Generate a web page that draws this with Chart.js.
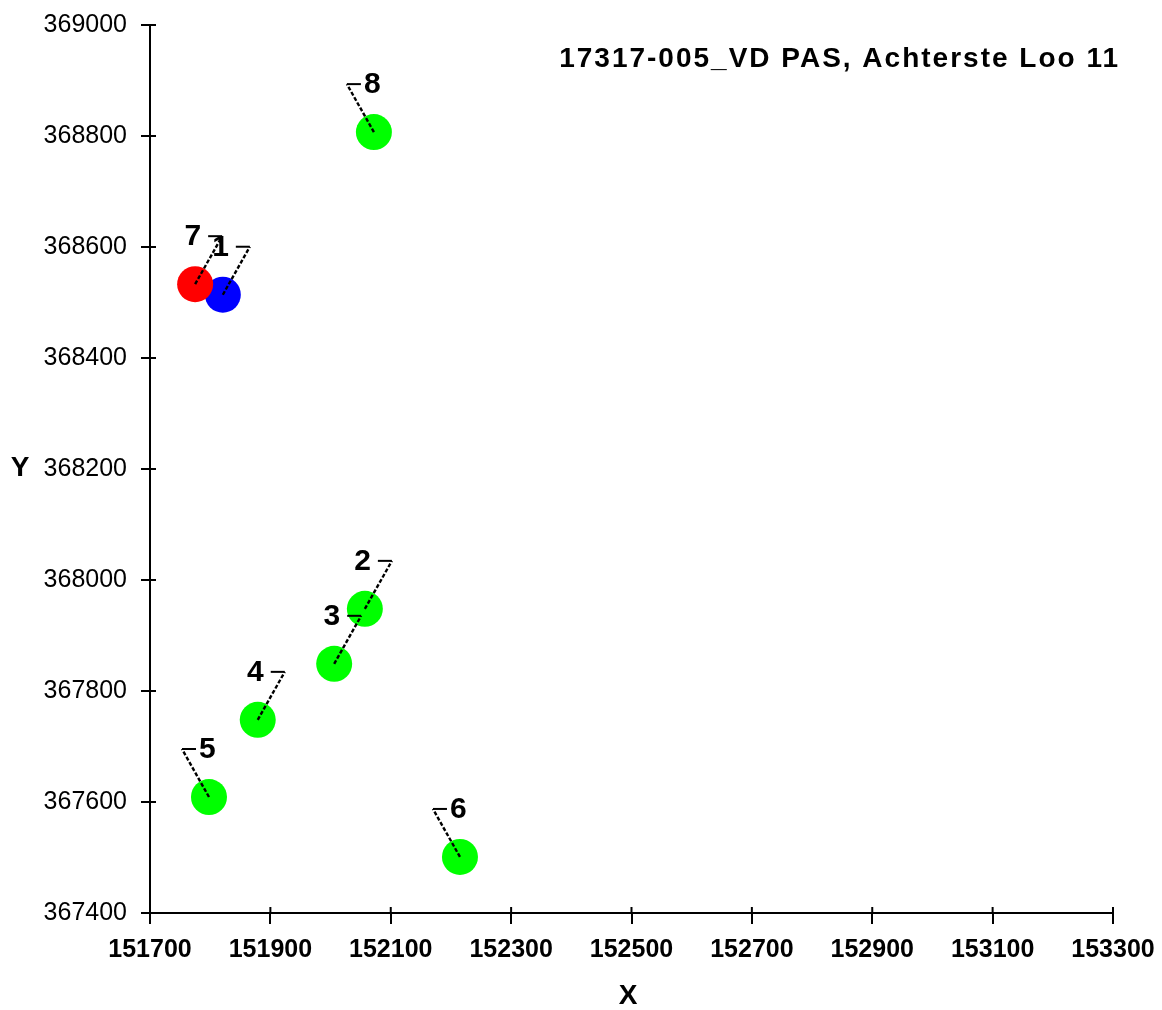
<!DOCTYPE html>
<html>
<head>
<meta charset="utf-8">
<script src="https://cdn.jsdelivr.net/npm/chart.js@4.4.1/dist/chart.umd.min.js"></script>
<style>
  body { margin: 0; background: #fff; }
  canvas { display: block; }
</style>
</head>
<body>
<canvas id="myChart" width="1162" height="1010"></canvas>
<script>
// point numbers and coordinates (RD x / y)
const ids = ['1', '2', '3', '4', '5', '6', '7', '8']
const xs = [151821, 152057, 152006, 151879, 151798, 152215, 151775, 152072]
const ys = [368514, 367948, 367849, 367748, 367609, 367501, 368533, 368807]
const groups = ['blue', 'green', 'green', 'green', 'green', 'green', 'red', 'green']

const xTicks = [151700, 151900, 152100, 152300, 152500, 152700, 152900, 153100, 153300]
const yTicks = [367400, 367600, 367800, 368000, 368200, 368400, 368600, 368800, 369000]

const chartTitle = '17317-005_VD PAS, Achterste Loo 11'

// which side the label leader goes to (1 = right, -1 = left)
const labelSide = [1, 1, 1, 1, -1, -1, 1, -1]

const colors = { green: '#00ff00', red: '#ff0000', blue: '#0000ff' }

const makeDataset = (group) => {
    const pts = []
    ids.forEach((id, i) => {
        if (groups[i] === group) pts.push({ x: xs[i], y: ys[i], id: id })
    })
    return {
        label: group,
        data: pts,
        backgroundColor: colors[group],
        borderColor: colors[group],
        pointRadius: 18,
        pointHoverRadius: 18,
        borderWidth: 0
    }
}

const sans = "'Liberation Sans', Arial, sans-serif"

// no extra padding from tick labels, layout.padding alone sets the plot box
const noPad = (scale) => {
    scale.paddingTop = 0
    scale.paddingBottom = 0
    scale.paddingLeft = 0
    scale.paddingRight = 0
}

const extras = {
    id: 'extras',
    afterDatasetsDraw(chart) {
        const ctx = chart.ctx
        const xs_ = chart.scales.x
        const ys_ = chart.scales.y
        ctx.save()

        // inner parts of the tick marks
        ctx.strokeStyle = '#000'
        ctx.lineWidth = 2
        xTicks.forEach(v => {
            const px = xs_.getPixelForValue(v)
            ctx.beginPath()
            ctx.moveTo(px, ys_.bottom)
            ctx.lineTo(px, ys_.bottom - 6)
            ctx.stroke()
        })
        yTicks.forEach(v => {
            const py = ys_.getPixelForValue(v)
            ctx.beginPath()
            ctx.moveTo(xs_.left, py)
            ctx.lineTo(xs_.left + 6, py)
            ctx.stroke()
        })

        // leader lines and point numbers
        ids.forEach((id, i) => {
            const px = xs_.getPixelForValue(xs[i])
            const py = ys_.getPixelForValue(ys[i])
            const side = labelSide[i]
            const cx = px + side * 27
            const cy = py - 48
            ctx.setLineDash([4, 2])
            ctx.lineWidth = 2.4
            ctx.beginPath()
            ctx.moveTo(px, py)
            ctx.lineTo(cx, cy)
            ctx.stroke()
            ctx.setLineDash([])
            ctx.lineWidth = 2
            ctx.beginPath()
            ctx.moveTo(cx, cy)
            ctx.lineTo(cx - side * 14, cy)
            ctx.stroke()

            ctx.fillStyle = '#000'
            ctx.font = "bold 30px " + sans
            ctx.textBaseline = 'middle'
            if (side === 1) {
                ctx.textAlign = 'right'
                ctx.fillText(id, cx - 14 - 7, cy + 1)
            } else {
                ctx.textAlign = 'left'
                ctx.fillText(id, cx + 14 + 3, cy + 1)
            }
        })

        // title and axis names
        ctx.fillStyle = '#000'
        ctx.textBaseline = 'middle'
        ctx.textAlign = 'right'
        ctx.font = "bold 28px " + sans
        ctx.letterSpacing = '2px'
        ctx.fillText(chartTitle, 1120, 59)
        ctx.letterSpacing = '0px'

        ctx.textAlign = 'center'
        ctx.font = "bold 28px " + sans
        ctx.fillText('X', 628, 996)
        ctx.fillText('Y', 20, 468)
        ctx.restore()
    }
}

const config = {
    type: 'scatter',
    data: {
        datasets: [makeDataset('green'), makeDataset('red'), makeDataset('blue')]
    },
    options: {
        responsive: false,
        devicePixelRatio: 1,
        animation: false,
        events: [],
        layout: { padding: { left: 0, right: 49, top: 25, bottom: 0 } },
        plugins: {
            legend: { display: false },
            tooltip: { enabled: false }
        },
        scales: {
            x: {
                type: 'linear',
                min: 151700,
                max: 153300,
                afterBuildTicks: (scale) => { scale.ticks = xTicks.map(v => ({ value: v })) },
                afterFit: (scale) => { scale.height = 97; noPad(scale) },
                border: { display: true, color: '#000', width: 2 },
                grid: { drawOnChartArea: false, color: '#000', lineWidth: 2, tickLength: 11 },
                ticks: {
                    color: '#000',
                    padding: 11,
                    maxRotation: 0,
                    font: { family: sans, size: 25, weight: 'bold' },
                    callback: v => String(v)
                }
            },
            y: {
                type: 'linear',
                min: 367400,
                max: 369000,
                afterBuildTicks: (scale) => { scale.ticks = yTicks.map(v => ({ value: v })) },
                afterFit: (scale) => { scale.width = 150; noPad(scale) },
                border: { display: true, color: '#000', width: 2 },
                grid: { drawOnChartArea: false, color: '#000', lineWidth: 2, tickLength: 9 },
                ticks: {
                    color: '#000',
                    padding: 14,
                    font: { family: sans, size: 25 },
                    callback: v => String(v)
                }
            }
        }
    },
    plugins: [extras]
}

const chart = new Chart(document.getElementById('myChart'), config)
</script>
</body>
</html>
